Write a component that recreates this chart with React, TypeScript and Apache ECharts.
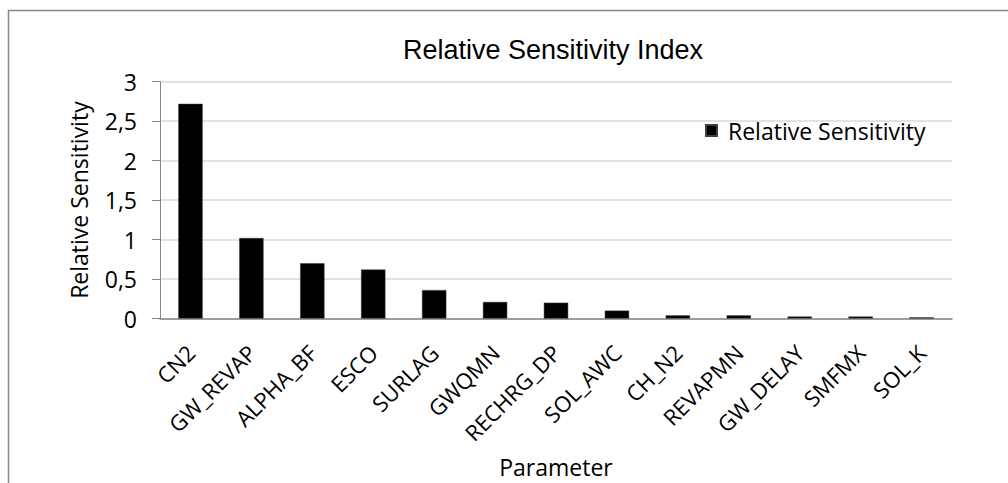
import React, { useEffect, useRef } from "react";
import * as echarts from "echarts";

const categories = [
  "CN2", "GW_REVAP", "ALPHA_BF", "ESCO", "SURLAG", "GWQMN", "RECHRG_DP",
  "SOL_AWC", "CH_N2", "REVAPMN", "GW_DELAY", "SMFMX", "SOL_K",
];
const sensitivity = [2.72, 1.02, 0.70, 0.62, 0.36, 0.21, 0.20, 0.10, 0.04, 0.04, 0.025, 0.025, 0.015];
const seriesName = "Relative Sensitivity";
const titleText = "Relative Sensitivity Index";
const xAxisTitle = "Parameter";
const yAxisTitle = "Relative Sensitivity";

const LABEL_FONT = "'Open Sans', Carlito, Calibri, sans-serif";

export default function App() {
  const ref = useRef<HTMLDivElement>(null);
  useEffect(() => {
    if (!ref.current) return;
    const chart = echarts.init(ref.current, undefined, { renderer: "svg" });
    chart.setOption({
      animation: false,
      backgroundColor: "#ffffff",
      textStyle: { fontFamily: LABEL_FONT, color: "#000" },
      graphic: [
        {
          type: "rect",
          shape: { x: 8.5, y: 10.5, width: 1100, height: 600 },
          style: { fill: "none", stroke: "#8a8a8a", lineWidth: 1.5 },
          silent: true,
        },
        {
          type: "text",
          x: 553,
          y: 50,
          style: {
            text: titleText,
            fontFamily: "'Liberation Sans', Arial, sans-serif",
            fontSize: 27,
            fill: "#000",
            textAlign: "center",
            textVerticalAlign: "middle",
          },
        },
      ],
      legend: {
        data: [seriesName],
        left: 705,
        top: 119,
        padding: 0,
        itemWidth: 11,
        itemHeight: 11,
        icon: "rect",
        textStyle: { fontFamily: LABEL_FONT, fontSize: 23, color: "#000", padding: [0, 0, 0, 6] },
      },
      grid: { left: 160, right: 56, top: 81.7, bottom: 164.5, containLabel: false },
      xAxis: {
        type: "category",
        data: categories,
        name: xAxisTitle,
        nameLocation: "middle",
        nameGap: 137,
        nameTextStyle: { fontFamily: LABEL_FONT, fontSize: 23, color: "#000" },
        axisLine: { lineStyle: { color: "#868686", width: 1.5 } },
        axisTick: { show: false },
        axisLabel: { rotate: 45, margin: 30, fontFamily: LABEL_FONT, fontSize: 22, color: "#000", interval: 0 },
      },
      yAxis: {
        type: "value",
        min: 0,
        max: 3,
        interval: 0.5,
        name: yAxisTitle,
        nameLocation: "middle",
        nameGap: 70,
        nameTextStyle: { fontFamily: LABEL_FONT, fontSize: 23, color: "#000" },
        axisLine: { show: true, lineStyle: { color: "#868686", width: 1 } },
        axisTick: { show: true, length: 8, lineStyle: { color: "#868686" } },
        axisLabel: {
          margin: 23,
          fontFamily: LABEL_FONT,
          fontSize: 23,
          color: "#000",
          formatter: (v: number) => String(v).replace(".", ","),
        },
        splitLine: { lineStyle: { color: "#d9d9d9", width: 1.5 } },
      },
      series: [
        {
          name: seriesName,
          type: "bar",
          data: sensitivity,
          barWidth: "40%",
          itemStyle: { color: "#000000", borderColor: "#404040", borderWidth: 0.5 },
        },
      ],
    });
    return () => chart.dispose();
  }, []);
  return (
    <div
      ref={ref}
      style={{ position: "fixed", left: 0, top: 0, width: 1008, height: 483, background: "#fff" }}
    />
  );
}
